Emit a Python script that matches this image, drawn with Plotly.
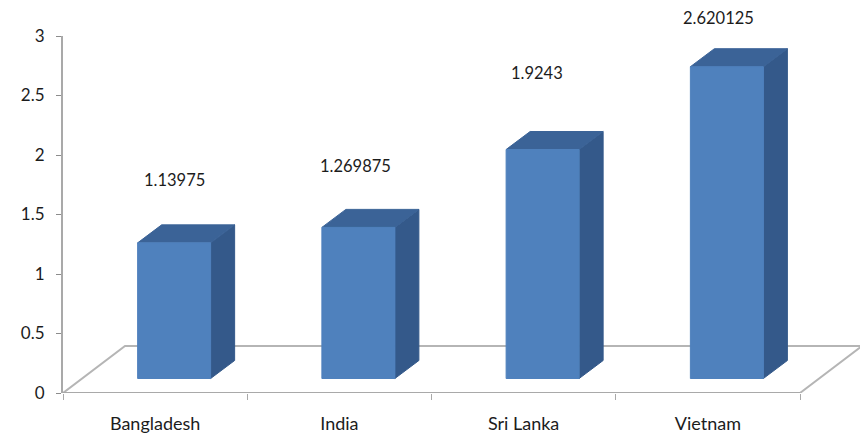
import plotly.graph_objects as go

categories = ["Bangladesh", "India", "Sri Lanka", "Vietnam"]
values = [1.13975, 1.269875, 1.9243, 2.620125]
value_labels = ["1.13975", "1.269875", "1.9243", "2.620125"]
y_ticks = [0, 0.5, 1, 1.5, 2, 2.5, 3]
y_tick_labels = ["0", "0.5", "1", "1.5", "2", "2.5", "3"]

# pixel scale of the plot area and the oblique projection, used only for styling the 3-D look
W, H = 865, 434
ML, MR, MT, MB = 63, 5, 36, 41
n = len(categories)
PX_X = 737 / n
PX_Y = (H - MT - MB) / 3
FONT = "Lato, 'Open Sans', sans-serif"
INK = "#1c1c1c"
AXIS = "#a9a9a9"
FRONT, SIDE, TOP = "#4f81bd", "#34598a", "#3b6397"

bar_off = 19 / PX_X      # front face shift from category centre
bar_half = 36.5 / PX_X
depth_x, depth_y = 24 / PX_X, 18 / PX_Y
base = 14.5 / PX_Y       # front bottom edge above the axis
floor_x, floor_y = 62 / PX_X, 47 / PX_Y
label_gap_px = [45, 43, 59, 31]
label_nudge_px = [0, -3, -6, -8]

fig = go.Figure()


def poly(xs, ys, color):
    fig.add_trace(go.Scatter(x=xs, y=ys, mode="lines", fill="toself", fillcolor=color,
                             line=dict(color=color, width=1), hoverinfo="skip",
                             showlegend=False, cliponaxis=False))


# floor outline
fig.add_trace(go.Scatter(
    x=[0, floor_x, n + floor_x, n],
    y=[0, floor_y, floor_y, 0],
    mode="lines", line=dict(color="#b5b5b5", width=2), hoverinfo="skip",
    showlegend=False, cliponaxis=False))
# category axis line stops at the last category
fig.add_trace(go.Scatter(
    x=[0, n], y=[0, 0], mode="lines", line=dict(color=AXIS, width=2),
    hoverinfo="skip", showlegend=False, cliponaxis=False))

for i, v in enumerate(values):
    c = i + 0.5 + bar_off
    l, r = c - bar_half, c + bar_half
    bot, top = base, base + v
    poly([r, r + depth_x, r + depth_x, r, r], [bot, bot + depth_y, top + depth_y, top, bot], SIDE)
    poly([l, l + depth_x, r + depth_x, r, l], [top, top + depth_y, top + depth_y, top, top], TOP)
    poly([l, r, r, l, l], [bot, bot, top, top, bot], FRONT)
    fig.add_annotation(x=c, y=top + depth_y, text=value_labels[i], showarrow=False,
                       yshift=label_gap_px[i], xshift=label_nudge_px[i],
                       xanchor="center", yanchor="middle",
                       font=dict(family=FONT, size=16.5, color=INK))

fig.update_layout(
    width=W, height=H, autosize=False,
    margin=dict(l=ML, r=MR, t=MT, b=MB, autoexpand=False),
    paper_bgcolor="white", plot_bgcolor="white", showlegend=False,
    xaxis=dict(range=[0, (W - MR - ML) / PX_X], tickmode="array", tickvals=[i + 0.5 for i in range(n)],
               ticktext=categories, ticks="", showgrid=False, zeroline=False, automargin=False,
               showline=False, ticklabelstandoff=18,
               tickfont=dict(family=FONT, size=18, color=INK),
               minor=dict(tickmode="array", tickvals=list(range(n + 1)), ticks="outside",
                          ticklen=6, tickcolor=AXIS, tickwidth=1, showgrid=False)),
    yaxis=dict(range=[0, 3], tickmode="array", tickvals=y_ticks, ticktext=y_tick_labels,
               ticks="outside", ticklen=5, tickcolor="#8c8c8c", tickwidth=1, automargin=False,
               showgrid=False, zeroline=False, showline=True, linecolor=AXIS, linewidth=2,
               ticklabelstandoff=8, tickfont=dict(family=FONT, size=17, color=INK)),
)

fig.write_html("out.html", config={"displayModeBar": False},
               post_script="document.body.style.margin='0';document.documentElement.style.overflow='hidden';")
